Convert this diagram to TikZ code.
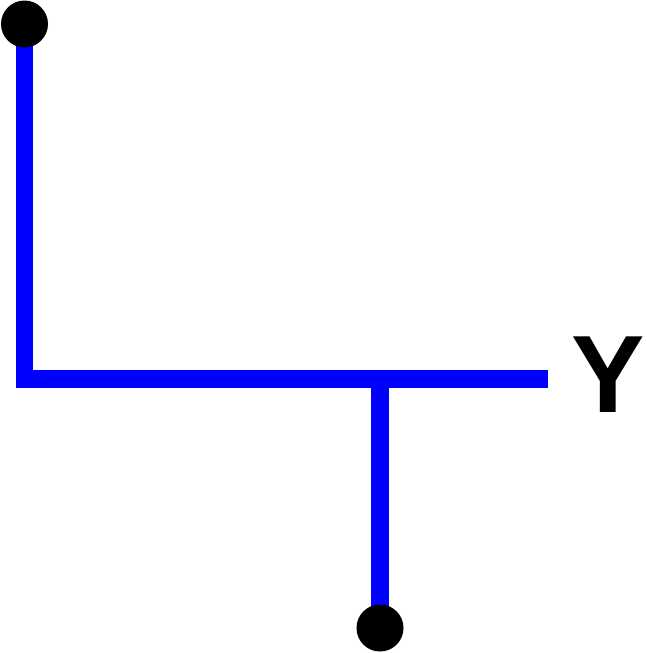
\documentclass[tikz,border=0pt]{standalone}
\usepackage{fontspec}
\setmainfont{Liberation Sans}
\usepackage{xcolor}
\usetikzlibrary{positioning,backgrounds}
\definecolor{Wire}{HTML}{0000FF}

\begin{document}
\begin{tikzpicture}[
  x=1pt, y=-1pt,
  wire/.style={draw=Wire, line width=17.5pt},
  pin/.style={circle, fill=black, inner sep=0pt, minimum size=47pt},
  label/.style={font=\bfseries\fontsize{110}{110}\selectfont, inner sep=0pt, anchor=base}
]
  \useasboundingbox (0,0) rectangle (647,653);
  \node[pin] (top) at (24.5,24) {};
  \node[pin] (bottom) at (380,628) {};
  \coordinate (junction) at (380,379);
  \coordinate (rend) at (548,379);
  \node[label] (y) at (608,412) {Y};

  % wires sit under the pins
  \begin{scope}[on background layer]
    \draw[wire] (top.center) |- (rend);
    \draw[wire] (junction) -- (bottom.center);
  \end{scope}
\end{tikzpicture}
\end{document}
